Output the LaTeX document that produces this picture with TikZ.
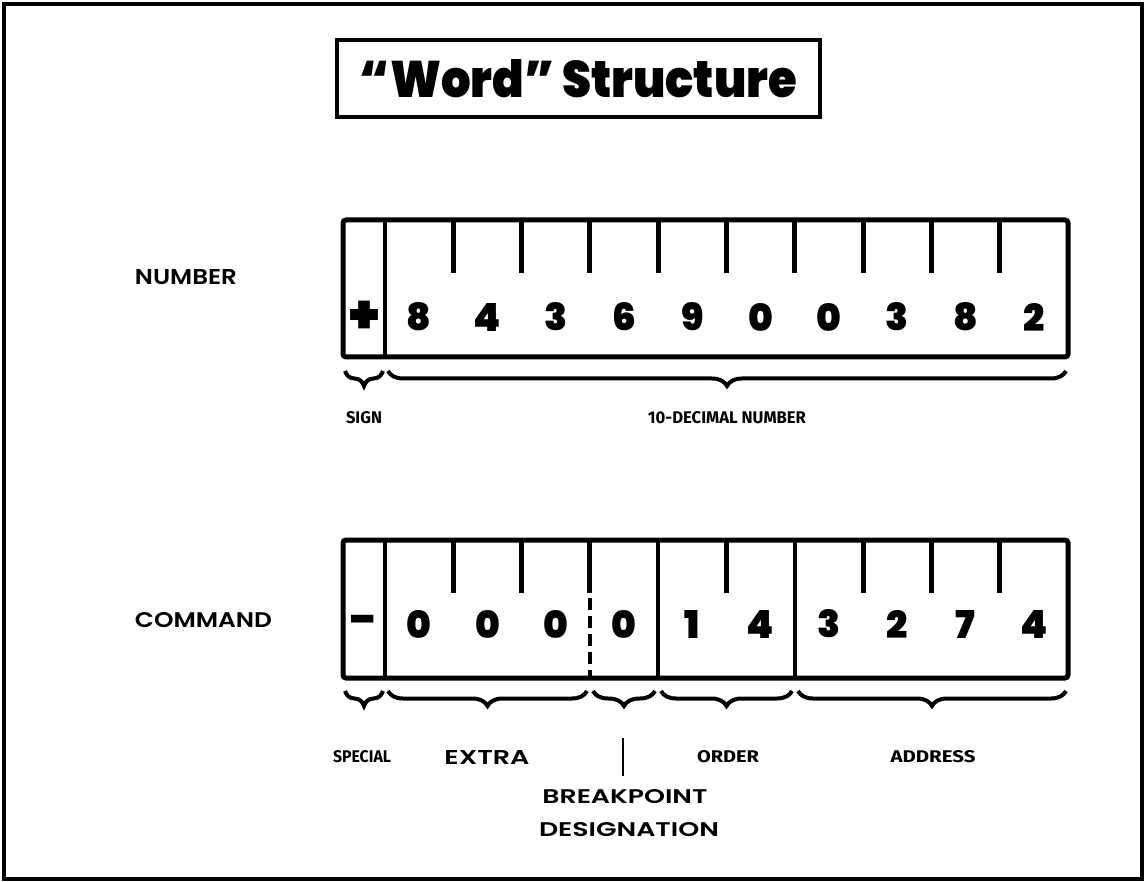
\documentclass[tikz,border=0pt]{standalone}
\usepackage{fontspec}
\usepackage{graphicx}
\usetikzlibrary{decorations.pathreplacing}
\newfontfamily\heavyfont{Poppins Black}
\newfontfamily\labfont{Poppins SemiBold}
\newfontfamily\condfont{Fira Sans}
\newcommand{\fitbox}[3]{\resizebox{#1pt}{#2pt}{#3}}
\newcommand{\dg}[1]{\resizebox{!}{28pt}{\heavyfont #1}}
\begin{document}
\begin{tikzpicture}[x=1pt,y=-1pt,
  frame/.style={line width=3.5pt},
  boxline/.style={line width=5pt, rounded corners=3pt},
  divider/.style={line width=4pt},
  tickline/.style={line width=5pt},
  dashdiv/.style={line width=3.5pt, dash pattern=on 12pt off 6pt},
  brc/.style={decorate, decoration={brace, mirror, amplitude=15pt}, line width=4pt},
  txt/.style={inner sep=0pt, anchor=center}]
\useasboundingbox (0,0) rectangle (1146,882);
\draw[frame] (4,4) rectangle (1142,879);
% title
\node[draw, line width=3.5pt, minimum width=483pt, minimum height=77pt, inner sep=0pt] (title) at (578.5,78.5)
  {\fitbox{437}{38}{\heavyfont “Word” Structure}};
% row labels
\node[txt] (numlab) at (186,277.5) {\fitbox{102}{15}{\labfont NUMBER}};
\node[txt] (cmdlab) at (203.5,620) {\fitbox{137}{15}{\labfont COMMAND}};
% number box
\coordinate (ntl) at (343,220);
\coordinate (nbr) at (1068,357);
\draw[boxline] (ntl) rectangle (nbr);
\draw[divider] (385,220) -- (385,357);
\foreach \k in {1,...,9} \draw[tickline] ({385+68.3*\k},220) -- ++(0,53);
\node[txt] (nsign) at (364,317) {\resizebox{30pt}{!}{\heavyfont +}};
\foreach \d [count=\i from 0] in {8,4,3,6,9,0,0,3,8,2}
  \node[txt] (nd\i) at ({419.15+68.3*\i},317) {\dg{\d}};
% number braces
\coordinate (sb1) at (345,371); \coordinate (sb2) at (383,371);
\coordinate (db1) at (388,371); \coordinate (db2) at (1066,371);
\draw[brc] (sb1) -- (sb2);
\draw[brc] (db1) -- (db2);
\node[txt] (signlab) at (364,418) {\fitbox{36}{12}{\condfont\bfseries SIGN}};
\node[txt] (declab) at (727,418) {\fitbox{158}{12}{\condfont\bfseries 10-DECIMAL NUMBER}};
% command box
\coordinate (ctl) at (343,540);
\coordinate (cbr) at (1068,678);
\draw[boxline] (ctl) rectangle (cbr);
\draw[divider] (385,540) -- (385,678);
\draw[divider] (658.2,540) -- (658.2,678);
\draw[divider] (794.8,540) -- (794.8,678);
\foreach \k in {1,2,3,5,7,8,9} \draw[tickline] ({385+68.3*\k},540) -- ++(0,53);
\draw[dashdiv] (589.9,598) -- (589.9,678);
\node[txt] (csign) at (364,624) {\scalebox{1.6}[1.4]{\fontsize{30}{30}\heavyfont -}};
\foreach \d [count=\i from 0] in {0,0,0,0,1,4,3,2,7,4}
  \node[txt] (cd\i) at ({419.15+68.3*\i},624) {\dg{\d}};
% command braces
\coordinate (pb1) at (345,691); \coordinate (pb2) at (383,691);
\coordinate (eb1) at (388,691); \coordinate (eb2) at (587,691);
\coordinate (bb1) at (593,691); \coordinate (bb2) at (655,691);
\coordinate (ob1) at (661,691); \coordinate (ob2) at (792,691);
\coordinate (ab1) at (798,691); \coordinate (ab2) at (1066,691);
\draw[brc] (pb1) -- (pb2);
\draw[brc] (eb1) -- (eb2);
\draw[brc] (bb1) -- (bb2);
\draw[brc] (ob1) -- (ob2);
\draw[brc] (ab1) -- (ab2);
\node[txt] (speclab) at (362,757) {\fitbox{58}{12}{\condfont\bfseries SPECIAL}};
\node[txt] (extlab) at (487,757) {\fitbox{85}{14}{\labfont EXTRA}};
\node[txt] (ordlab) at (728,757) {\fitbox{62}{12}{\condfont\bfseries ORDER}};
\node[txt] (addlab) at (933,757) {\fitbox{85}{12}{\condfont\bfseries ADDRESS}};
\coordinate (bl1) at (623,738); \coordinate (bl2) at (623,776);
\draw[line width=2.5pt] (bl1) -- (bl2);
\node[txt] (bplab) at (625,797) {\fitbox{165}{14}{\labfont BREAKPOINT}};
\node[txt] (deslab) at (629,830) {\fitbox{180}{14}{\labfont DESIGNATION}};
\end{tikzpicture}
\end{document}
